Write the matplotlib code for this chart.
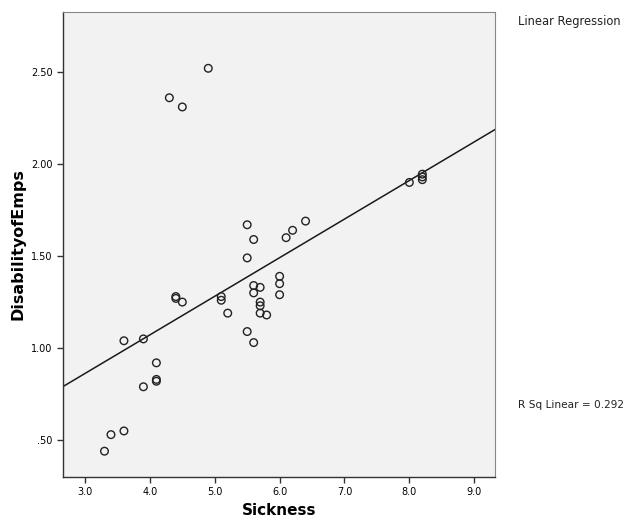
import numpy as np
import matplotlib.pyplot as plt
from matplotlib.ticker import FuncFormatter

# Data
sickness = [3.3, 3.4, 3.6, 3.6, 3.9, 3.9, 4.1, 4.1, 4.1,
            4.3, 4.5, 4.9,
            4.4, 4.4, 4.5, 5.1, 5.1, 5.2,
            5.5, 5.5, 5.5, 5.6, 5.6, 5.6, 5.6,
            5.7, 5.7, 5.7, 5.7, 5.8,
            6.0, 6.0, 6.0, 6.1, 6.2, 6.4,
            8.0, 8.2, 8.2, 8.2]
disability = [0.44, 0.53, 0.55, 1.04, 1.05, 0.79, 0.92, 0.83, 0.82,
              2.36, 2.31, 2.52,
              1.28, 1.27, 1.25, 1.28, 1.26, 1.19,
              1.67, 1.49, 1.09, 1.03, 1.34, 1.30, 1.59,
              1.33, 1.25, 1.23, 1.19, 1.18,
              1.39, 1.35, 1.29, 1.60, 1.64, 1.69,
              1.90, 1.945, 1.93, 1.915]
x_ticks = [3.0, 4.0, 5.0, 6.0, 7.0, 8.0, 9.0]
y_ticks = [0.5, 1.0, 1.5, 2.0, 2.5]
r_sq_text = "R Sq Linear = 0.292"

fig = plt.figure(figsize=(6.31, 5.18), dpi=100)
ax = fig.add_axes([0.0998, 0.0792, 0.6846, 0.8977])
ax.set_facecolor("#f2f2f2")

ax.scatter(sickness, disability, s=30, facecolors="none", edgecolors="#222222", linewidths=1.0, zorder=3)

# linear fit
slope, intercept = np.polyfit(sickness, disability, 1)
xlim = (2.66, 9.32)
xs = np.array(xlim)
ax.plot(xs, slope * xs + intercept, color="#1a1a1a", linewidth=1.1, zorder=2)

ax.set_xlim(xlim)
ax.set_ylim(0.30, 2.826)
ax.set_xticks(x_ticks)
ax.set_yticks(y_ticks)
ax.xaxis.set_major_formatter(FuncFormatter(lambda v, p: "%.1f" % v))
ax.yaxis.set_major_formatter(FuncFormatter(lambda v, p: ("%.2f" % v).lstrip("0")))
ax.tick_params(labelsize=7, length=4, width=1, direction="out", color="#333333")

for side in ["top", "right"]:
    ax.spines[side].set_color("#888888")
for side in ["left", "bottom"]:
    ax.spines[side].set_color("#333333")
    ax.spines[side].set_linewidth(1.0)

ax.set_xlabel("Sickness", fontsize=11, fontweight="bold", labelpad=4)
ax.set_ylabel("DisabilityofEmps", fontsize=11.5, fontweight="bold", labelpad=4)

fig.text(0.821, 0.958, "Linear Regression", fontsize=8.3, va="center", ha="left", color="#222222")
fig.text(0.821, 0.218, r_sq_text, fontsize=7.6, va="center", ha="left", color="#222222")

fig.savefig("out.png", dpi=100)
